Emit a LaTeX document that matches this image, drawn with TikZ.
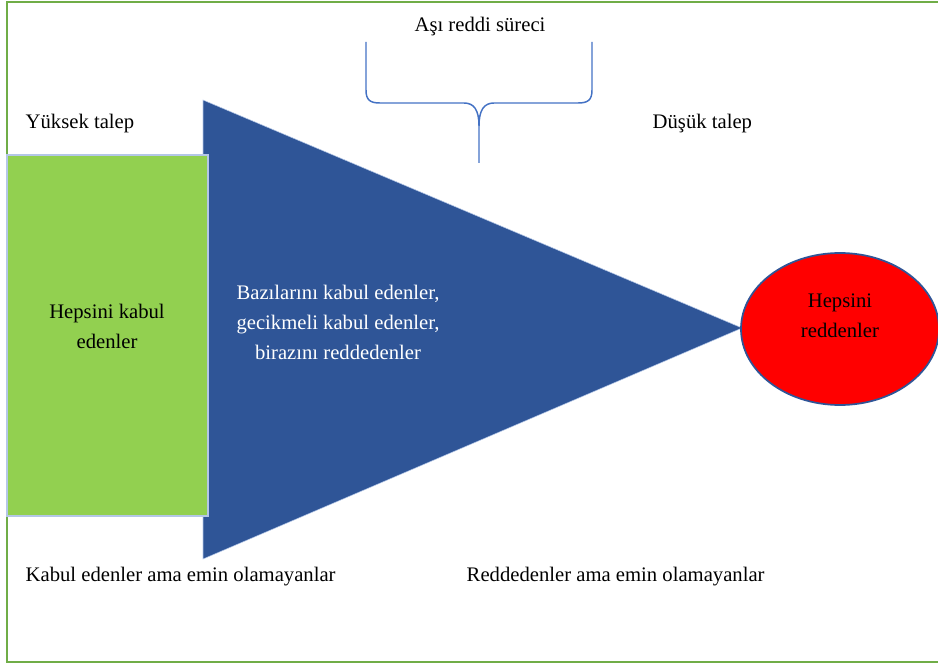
\documentclass[tikz,border=0pt]{standalone}
\usepackage{fontspec}
\setmainfont{Liberation Serif}
\usepackage{tikz}

\definecolor{FrameGreen}{HTML}{70AD47}
\definecolor{BoxGreen}{HTML}{92D050}
\definecolor{TriBlue}{HTML}{2F5597}
\definecolor{BraceBlue}{HTML}{4472C4}
\definecolor{EdgeGrey}{HTML}{B4C7E7}

\begin{document}
\begin{tikzpicture}[x=0.75pt,y=-0.75pt]
\tikzstyle{every node}=[font=\fontsize{15.5}{22.5}\selectfont, align=center]
\tikzstyle{brace}=[draw=BraceBlue, line width=1.1pt]

\useasboundingbox (0,0) rectangle (938,666);

\coordinate (TriTop) at (203,100);
\coordinate (TriBottom) at (203,559);
\coordinate (TriTip) at (742,328);
\coordinate (BraceLeft) at (366,42);
\coordinate (BraceRight) at (592,42);
\coordinate (BraceTip) at (479,163);

% frame
\draw[FrameGreen, line width=2.2pt] (938,2) -- (7,2) -- (7,662) -- (938,662);

% funnel
\fill[TriBlue, draw=EdgeGrey, line width=0.4pt] (TriTop) -- (TriTip) -- (TriBottom) -- cycle;
\draw[fill=BoxGreen, draw=EdgeGrey, line width=1pt] (7,155) rectangle (208,516);
\draw[fill=red, draw=TriBlue, line width=1.3pt] (840,329) ellipse (99 and 76);

% brace
\draw[brace] (BraceLeft) -- (366,90) .. controls (366,100) and (370,103) .. (380,103)
  -- (464,103) .. controls (474,103) and (479,110) .. (479,126) -- (BraceTip);
\draw[brace] (BraceRight) -- (592,90) .. controls (592,100) and (588,103) .. (578,103)
  -- (494,103) .. controls (484,103) and (479,110) .. (479,126);

% labels
\node (Surec) at (480,27) {Aşı reddi süreci};
\node[anchor=west] (Yuksek) at (21,124) {Yüksek talep};
\node[anchor=west] (Dusuk) at (648,124) {Düşük talep};
\node (HepsiKabul) at (107,326) {Hepsini kabul\\edenler};
\node[text=white] (Bazilari) at (338,322) {Bazılarını kabul edenler,\\gecikmeli kabul edenler,\\birazını reddedenler};
\node (HepsiRed) at (840,316) {Hepsini\\reddenler};
\node[anchor=west] (KabulEmin) at (21,577) {Kabul edenler ama emin olamayanlar};
\node[anchor=west] (RedEmin) at (462,577) {Reddedenler ama emin olamayanlar};
\end{tikzpicture}
\end{document}
